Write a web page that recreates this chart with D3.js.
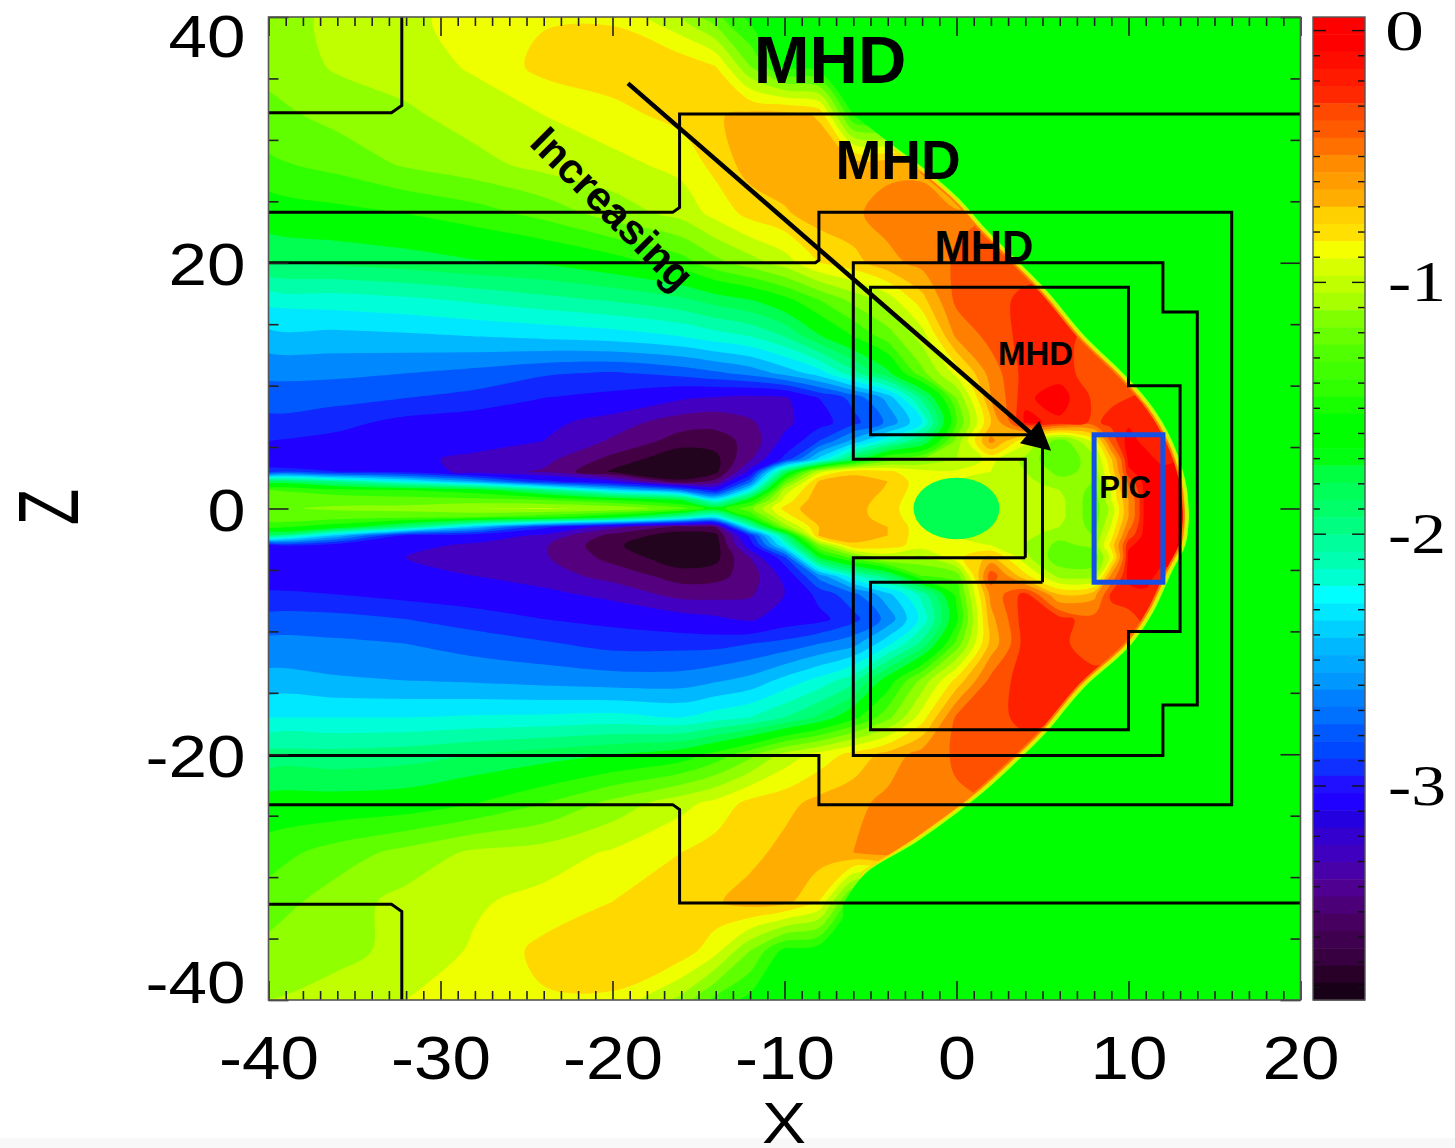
<!DOCTYPE html>
<html><head><meta charset="utf-8">
<script src="https://cdn.jsdelivr.net/npm/d3@7"></script>
<style>html,body{margin:0;padding:0;background:#fff}svg{display:block}</style>
</head><body><svg id="c" width="1455" height="1148"></svg>
<script>
// grid coordinates
const xCoords = [-40,-36,-32,-28,-24,-20,-16,-14,-12,-10,-8,-6,-4,-2,0,2,4,6,8,9,10,11,12,14,16,20];
const zCoords = [40,36,32,28,24,20,17,14,11,9,7,5.5,4,3,2.2,1.5,0.7,0,-0.7,-1.5,-2.2,-3,-4,-5.5,-7,-9,-11,-14,-17,-20,-24,-28,-32,-36,-40];
const upstream = -1.6; // undisturbed solar wind: rows stop where only this value remains
// log10 values, one row per zCoord; each row is read left to right
const fieldRows = [
[-1.15,-1,-.93,-.85,-.77,-.77,-1.05,-1.3,-1.55],
[-1.15,-1.03,-.97,-.88,-.7,-.66,-.65,-.75,-1.2,-1.55],
[-1.25,-1.15,-1.08,-.98,-.9,-.8,-.7,-.62,-.55,-.53,-.62,-1.5],
[-1.38,-1.3,-1.18,-1.1,-1,-.95,-.85,-.7,-.53,-.5,-.47,-.5,-.5,-.5],
[-1.6,-1.55,-1.5,-1.42,-1.3,-1.13,-1,-.85,-.7,-.62,-.53,-.48,-.38,-.36,-.33,-.3,-.3],
[-1.85,-1.82,-1.78,-1.72,-1.68,-1.58,-1.42,-1.25,-1.12,-.98,-.75,-.66,-.5,-.4,-.28,-.25,-.25,-.25],
[-2.25,-2.22,-2.18,-2.12,-2.05,-1.98,-1.88,-1.78,-1.7,-1.55,-1.35,-1.15,-.98,-.65,-.26,-.24,-.14,-.12,-.12],
[-2.5,-2.5,-2.48,-2.45,-2.42,-2.38,-2.3,-2.22,-2.15,-2,-1.72,-1.5,-1.28,-.98,-.42,-.25,-.14,-.14,-.22,-.25],
[-2.72,-2.72,-2.75,-2.8,-2.88,-2.92,-2.85,-2.78,-2.7,-2.55,-2.38,-2.05,-1.75,-1.25,-.85,-.38,-.13,-.12,-.25,-.24,-.24,-.24,-.24],
[-2.82,-2.85,-2.9,-2.95,-3.05,-3.1,-3.23,-3.27,-3.3,-3.28,-3.05,-2.85,-2.55,-1.95,-1.2,-.45,-.1,-.03,-.2,-.2,-.18,-.16,-.15,-.15],
[-2.95,-3,-3.1,-3.15,-3.2,-3.33,-3.48,-3.5,-3.42,-3.3,-3.12,-2.95,-2.72,-2.3,-1.35,-.6,-.06,-.1,-.2,-.15,-.1,-.1,-.1,-.1],
[-3.05,-3.1,-3.15,-3.2,-3.25,-3.42,-3.62,-3.62,-3.5,-3.2,-2.9,-2.55,-2.2,-1.85,-1.15,-.4,-.85,-1.3,-.85,-.25,-.03,-.12,-.12,-.05],
[-3.15,-3.2,-3.22,-3.28,-3.35,-3.6,-3.78,-3.72,-3.42,-3,-2.4,-1.8,-1.3,-1.2,-1.05,-.85,-1.1,-1.35,-1.1,-.62,-.05,-.03,-.12,-.03],
[-3,-3.05,-3.1,-3.33,-3.42,-3.7,-3.8,-3.72,-3.2,-1.85,-.95,-.63,-.72,-.85,-.88,-.9,-1.05,-1.25,-1.15,-.7,-.1,-.03,-.03,-.03],
[-1.8,-2,-2.3,-2.6,-3,-3.2,-3.65,-3.5,-2.8,-1.35,-.58,-.55,-.6,-.85,-.9,-.95,-1,-1.15,-1.2,-.8,-.25,-.03,-.03,-.03],
[-1.35,-1.45,-1.5,-1.6,-1.95,-2.4,-2.75,-3.1,-2.3,-1,-.52,-.5,-.62,-.85,-.9,-1,-1,-1.05,-1.25,-.88,-.35,-.03,-.03,-.03],
[-1.25,-1.25,-1.28,-1.3,-1.35,-1.5,-1.7,-2.3,-1.6,-.85,-.48,-.5,-.68,-.85,-.9,-1,-1,-1,-1.3,-.9,-.45,-.03,-.03,-.03],
[-1.22,-1.18,-1.15,-1.05,-1.03,-1.08,-1.3,-1.6,-1.25,-.7,-.48,-.53,-.7,-.85,-.9,-1,-1,-1,-1.3,-1,-.45,-.03,-.03,-.03],
[-1.25,-1.28,-1.3,-1.35,-1.45,-1.65,-2.1,-2.35,-1.5,-.85,-.48,-.53,-.68,-.85,-.9,-1,-1,-1,-1.3,-.95,-.45,-.03,-.03,-.03],
[-1.45,-1.6,-1.95,-2.5,-3,-3.35,-3.6,-3.55,-2.2,-1.15,-.6,-.52,-.6,-.85,-.9,-1,-1,-1.05,-1.25,-.88,-.35,-.03,-.03,-.03],
[-1.9,-2.5,-3.1,-3.15,-3.28,-3.6,-3.75,-3.72,-3,-1.95,-.58,-.55,-.6,-.85,-.9,-.95,-1,-1.15,-1.2,-.8,-.25,-.03,-.03,-.03],
[-3.15,-3.15,-3.2,-3.28,-3.38,-3.66,-3.78,-3.75,-3.15,-2.3,-1.2,-.62,-.68,-.82,-.88,-.9,-1.05,-1.25,-1.15,-.7,-.1,-.03,-.03,-.03],
[-3.2,-3.2,-3.25,-3.28,-3.38,-3.6,-3.76,-3.72,-3.4,-2.95,-1.7,-1.3,-1,-1.1,-.8,-.55,-1,-1.3,-1.3,-.85,-.05,-.03,-.04,-.04],
[-3.15,-3.2,-3.22,-3.25,-3.33,-3.45,-3.62,-3.6,-3.48,-3.2,-2.7,-2.2,-1.9,-1.35,-1.3,-.2,-.7,-1.1,-1.1,-.4,-.05,-.04,-.12,-.06],
[-3.02,-3.05,-3.1,-3.15,-3.2,-3.3,-3.45,-3.45,-3.42,-3.25,-3,-2.8,-2.5,-2.1,-1.45,-.4,-.13,-.6,-.5,-.15,-.12,-.1,-.1,-.1],
[-2.85,-2.85,-2.9,-2.97,-3.05,-3.1,-3.18,-3.22,-3.28,-3.15,-3.1,-2.95,-2.7,-2.25,-1.55,-.5,-.1,-.13,-.25,-.25,-.22,-.15,-.1,-.1],
[-2.7,-2.72,-2.75,-2.82,-2.88,-2.95,-2.95,-2.95,-2.9,-2.85,-2.75,-2.65,-2.35,-1.95,-1.3,-.55,-.12,-.15,-.25,-.24,-.2,-.2,-.2],
[-2.55,-2.58,-2.6,-2.62,-2.65,-2.68,-2.68,-2.62,-2.55,-2.4,-2.25,-2.05,-1.6,-1.15,-.7,-.25,-.13,-.13,-.13,-.13],
[-2.3,-2.3,-2.3,-2.28,-2.27,-2.25,-2.3,-2.22,-2.15,-2,-1.82,-1.55,-1.25,-.82,-.27,-.23,-.14,-.14],
[-1.95,-1.95,-1.92,-1.85,-1.78,-1.7,-1.6,-1.45,-1.25,-1,-.85,-.7,-.55,-.38,-.28,-.25,-.25],
[-1.62,-1.62,-1.6,-1.5,-1.35,-1.15,-.95,-.85,-.7,-.65,-.55,-.5,-.4,-.36,-.32,-.3],
[-1.42,-1.28,-1.15,-1.02,-.98,-.88,-.75,-.68,-.65,-.55,-.52,-.45,-.38,-.5,-.5],
[-1.28,-1.12,-1,-.92,-.85,-.75,-.68,-.62,-.53,-.55,-.75,-1.5],
[-1.15,-1.1,-1,-.88,-.7,-.66,-.66,-.85,-1.2,-1.55],
[-1.05,-.98,-.9,-.85,-.77,-.77,-1.1,-1.4,-1.55]
];
// contour levels and the fill of each band above it
const levels = [-3.68,-3.55,-3.4,-3.25,-3.05,-2.9,-2.75,-2.6,-2.45,-2.3,-2.15,-2,-1.85,-1.7,-1.5,-1.35,-1.2,-1.05,-.9,-.75,-.6,-.45,-.3,-.18,-.08];
const bandColors = ["#430045","#55007f","#4300c0","#2200ff","#1028ff","#0058ff","#0088ff","#00b8ff","#00e8ff","#00ffd8","#00ffa8","#00ff78","#00ff50","#00ff00","#30ff00","#60ff00","#90ff00","#c0ff00","#f0ff00","#ffd800","#ffad00","#ff8000","#ff5000","#ff2000","#ff0000"];
const lowestColor = "#22041f";
// colour bar, top band first
const barColors = ["#ff0000","#ff0000","#ff0c00","#ff1a00","#ff2800","#ff4800","#ff5a00","#ff7000","#ff8c00","#ff9c00","#ffad00","#ffd000","#ffe000","#f5ff00","#d8ff00","#c0ff00","#a8ff00","#80ff00","#68ff00","#50ff00","#40ff00","#30ff00","#18ff00","#00ff00","#00ff00","#00ff10","#00ff40","#00ff58","#00ff68","#00ff80","#00ff9c","#00ffb0","#00ffd0","#00ffff","#00e8ff","#00d0ff","#00b8ff","#00a8ff","#0098ff","#0080ff","#0070ff","#0058ff","#0048ff","#1030ff","#2010ff","#2000ff","#2400e0","#3400d0","#4000c0","#4800a8","#500090","#4c0078","#480060","#400050","#380040","#280028","#180018"];
const barTop = 0.054, barBottom = -3.85;
const barMajor = [0,-1,-2,-3];
const barMinor = [-.1,-.2,-.3,-.4,-.5,-.6,-.7,-.8,-.9,-1.1,-1.2,-1.3,-1.4,-1.5,-1.6,-1.7,-1.8,-1.9,-2.1,-2.2,-2.3,-2.4,-2.5,-2.6,-2.7,-2.8,-2.9,-3.1,-3.2,-3.3,-3.4,-3.5,-3.6,-3.7,-3.8];
const xMajor = [-40,-30,-20,-10,0,10,20];
const xMinor = d3.range(-40,21).filter(v=>v%10!==0);
const zMajor = [40,20,0,-20,-40];
const zMinor = [35,30,25,15,10,5,-5,-10,-15,-25,-30,-35];
// bow shock, north to south, [x,z]
const shockX = [-5.96,-3.75,-1.83,0.15,1.54,3.52,5.26,7.41,9.8,11.37,12.5,13.3,13.5,13.5,13.3,12.5,11.4,10,7.4,5.1,3.5,1.55,0,-2.4,-5.3,-6.6];
const shockZ = [32,29.6,27.6,25.2,23,20.2,17.7,14.1,10.85,8.3,5.6,2.3,0,-1.1,-3,-5.2,-8.5,-11.3,-14.6,-18.4,-20.6,-23.1,-24.8,-27.2,-29.7,-32.2];
// nested refinement boundaries, [x,z] vertices
const grids = [
 [[-40,32.2],[-32.85,32.2],[-32.25,32.8],[-32.25,40]],
 [[-40,24.1],[-16.5,24.1],[-16.1,24.5],[-16.1,32.1],[20,32.1]],
 [[-40,-24.1],[-16.5,-24.1],[-16.1,-24.5],[-16.1,-32.1],[20,-32.1]],
 [[-40,-32.2],[-32.85,-32.2],[-32.25,-32.8],[-32.25,-40]],
 [[-40,20],[-8.2,20],[-8,20.2],[-8,24.1],[16,24.1],[16,-24.1],[-8,-24.1],[-8,-20.1],[-40,-20.1]],
 [[4,-4],[-6,-4],[-6,-20.1],[12,-20.1],[12,-16],[14,-16],[14,16],[12,16],[12,20],[-6,20],[-6,4],[4,4],[4,-4]],
 [[5,-6],[-5,-6],[-5,-18],[10,-18],[10,-10],[13,-10],[13,10],[10,10],[10,18],[-5,18],[-5,6],[5,6],[5,-6]]
];
const picBox = {x0:8,x1:12,z0:-6,z1:6};
const body = {x:0,z:0,r:2.5};
const arrowFrom = [-19.1,34.6], arrowTo = [5.5,4.7];
const labels = [
 {t:"MHD",x:-7.35,z:36.1,s:67},{t:"MHD",x:-3.4,z:28,s:55},{t:"MHD",x:1.6,z:21,s:43.5},{t:"MHD",x:4.6,z:12.4,s:33},{t:"PIC",x:9.8,z:1.5,s:31}
];

const L=268.5,R=1300.5,T=17,B=1000;
const svg=d3.select("#c");
svg.append("rect").attr("y",1138).attr("width",1455).attr("height",10).attr("fill","#f8f8f8");
const x=d3.scaleLinear().domain([-40,20]).range([L,R]);
const z=d3.scaleLinear().domain([-40,40]).range([B,T]);
const clip=svg.append("defs").append("clipPath").attr("id","pc");
clip.append("rect").attr("x",L).attr("y",T).attr("width",R-L).attr("height",B-T);
const plot=svg.append("g").attr("clip-path","url(#pc)");
plot.append("rect").attr("x",L).attr("y",T).attr("width",R-L).attr("height",B-T).attr("fill",lowestColor);

const nx=xCoords.length,nz=zCoords.length;
const values=[];
fieldRows.forEach(r=>{for(let i=0;i<nx;i++)values.push(i<r.length?r[i]:upstream)});
const ix=d3.scaleLinear().domain(xCoords.map((_,i)=>i+.5)).range(xCoords.map(v=>x(v)));
const iz=d3.scaleLinear().domain(zCoords.map((_,i)=>i+.5)).range(zCoords.map(v=>z(v)));
const ringLine=d3.line().x(p=>ix(p[0])).y(p=>iz(p[1])).curve(d3.curveCatmullRomClosed.alpha(.5));
const cs=d3.contours().size([nx,nz]).thresholds(levels)(values);
cs.forEach((c,i)=>{
 let d="";
 c.coordinates.forEach(poly=>poly.forEach(ring=>{d+=ringLine(ring.slice(0,-1))}));
 plot.append("path").attr("d",d).attr("fill",bandColors[i]).attr("fill-rule","evenodd");
});
// bow shock: thin transition and the undisturbed solar wind beyond it
const shock=shockX.map((v,i)=>[v,shockZ[i]]);
const sLine=d3.line().x(p=>x(p[0])).y(p=>z(p[1])).curve(d3.curveCatmullRom.alpha(.5));
[[2,24,12,"#ff8000"],[1,25,8,"#ffd800"],[1,25,5,"#c0ff00"]].forEach(([a,b,w,col])=>{
 plot.append("path").attr("d",sLine(shock.slice(a,b))).attr("fill","none").attr("stroke",col).attr("stroke-width",w).attr("stroke-linecap","round");
});
plot.append("path").attr("fill","#00ff00").attr("d",sLine(shock)+`L${x(-6.6)},${z(-40)}L${x(20)},${z(-40)}L${x(20)},${z(40)}L${x(-5.96)},${z(40)}Z`);
plot.append("ellipse").attr("cx",x(body.x)).attr("cy",z(body.z)).attr("rx",x(body.r)-x(0)).attr("ry",z(0)-z(body.r)).attr("fill","#00ff50");
// grid outlines
const gLine=d3.line().x(p=>x(p[0])).y(p=>z(p[1]));
plot.selectAll(".g").data(grids).join("path").attr("d",gLine).attr("fill","none").attr("stroke","#000").attr("stroke-width",3);
plot.append("rect").attr("x",x(picBox.x0)).attr("y",z(picBox.z1)).attr("width",x(picBox.x1)-x(picBox.x0)).attr("height",z(picBox.z0)-z(picBox.z1)).attr("fill","none").attr("stroke","#1450e6").attr("stroke-width",5);
// arrow
const ang=Math.atan2(z(arrowTo[1])-z(arrowFrom[1]),x(arrowTo[0])-x(arrowFrom[0]));
const ax=x(arrowTo[0]),ay=z(arrowTo[1]);
plot.append("line").attr("x1",x(arrowFrom[0])).attr("y1",z(arrowFrom[1])).attr("x2",ax-10*Math.cos(ang)).attr("y2",ay-10*Math.sin(ang)).attr("stroke","#000").attr("stroke-width",4.5);
plot.append("path").attr("fill","#000").attr("d",d3.line()([[ax,ay],[ax-32*Math.cos(ang-.48),ay-32*Math.sin(ang-.48)],[ax-32*Math.cos(ang+.48),ay-32*Math.sin(ang+.48)]])+"Z");
// annotation text
const sans="'Liberation Sans',Arial,sans-serif";
svg.selectAll(".lab").data(labels).join("text").text(d=>d.t).attr("x",d=>x(d.x)).attr("y",d=>z(d.z)).attr("text-anchor","middle").attr("dominant-baseline","middle")
 .attr("font-family",sans).attr("font-weight","bold").attr("font-size",d=>d.s).attr("fill","#000");
svg.append("text").text("Increasing").attr("transform","translate(610,211) rotate(45)").attr("text-anchor","middle").attr("dominant-baseline","middle")
 .attr("font-family",sans).attr("font-weight","bold").attr("font-size",42);
// axes: ticks point inward
function ticks(axis,scale,vals,size,tx){
 const g=svg.append("g").attr("transform",tx).call(axis(scale).tickValues(vals).tickSize(-size).tickFormat(""));
 g.select(".domain").remove();
 g.selectAll("line").attr("stroke","#222").attr("stroke-width",1.6);
}
ticks(d3.axisBottom,x,xMinor,9,`translate(0,${B})`);ticks(d3.axisBottom,x,xMajor,19,`translate(0,${B})`);
ticks(d3.axisTop,x,xMinor,9,`translate(0,${T})`);ticks(d3.axisTop,x,xMajor,19,`translate(0,${T})`);
ticks(d3.axisLeft,z,zMinor,10,`translate(${L},0)`);ticks(d3.axisLeft,z,zMajor,20,`translate(${L},0)`);
ticks(d3.axisRight,z,zMinor,10,`translate(${R},0)`);ticks(d3.axisRight,z,zMajor,20,`translate(${R},0)`);
svg.append("rect").attr("x",L).attr("y",T).attr("width",R-L).attr("height",B-T).attr("fill","none").attr("stroke","#555").attr("stroke-width",1.6);
// tick labels, wider than the font's natural width as in the reference
const wide=v=>String(v).length===3?100:String(v).length===2?77:38;
const xLab=svg.append("g").attr("transform",`translate(0,${B})`).call(d3.axisBottom(x).tickValues(xMajor).tickSize(0).tickPadding(0).tickFormat(v=>String(v)));
xLab.select(".domain").remove();
xLab.selectAll("text").attr("font-family",sans).attr("font-size",62).attr("fill","#000").attr("y",79).attr("dy",0).attr("text-anchor","middle")
 .attr("textLength",wide).attr("lengthAdjust","spacingAndGlyphs");
const zLab=svg.append("g").attr("transform",`translate(${L},0)`).call(d3.axisLeft(z).tickValues(zMajor).tickSize(0).tickPadding(0).tickFormat(v=>String(v)));
zLab.select(".domain").remove();
zLab.selectAll("text").attr("font-family",sans).attr("font-size",60).attr("fill","#000").attr("x",-23).attr("dy",0).attr("text-anchor","end")
 .attr("y",d=>d===40?39:d===-40?2:22).attr("textLength",wide).attr("lengthAdjust","spacingAndGlyphs");
svg.append("text").text("X").attr("x",784).attr("y",1143).attr("text-anchor","middle").attr("font-family",sans).attr("font-size",58).attr("textLength",44).attr("lengthAdjust","spacingAndGlyphs");
svg.append("text").text("Z").attr("transform","translate(78,507) rotate(-90)").attr("text-anchor","middle").attr("font-family",sans).attr("font-size",85).attr("textLength",36).attr("lengthAdjust","spacingAndGlyphs");
// colour bar
const barL=1313,barR=1365;
const bar=d3.scaleLinear().domain([barTop,barBottom]).range([T,B]);
const dv=(barTop-barBottom)/barColors.length;
svg.append("g").selectAll("rect").data(barColors).join("rect").attr("x",barL).attr("width",barR-barL).attr("y",(d,i)=>bar(barTop-i*dv)).attr("height",(d,i)=>bar(barTop-(i+1)*dv)-bar(barTop-i*dv)+.5).attr("fill",d=>d);
const barG=svg.append("g");
barMinor.concat(barMajor).forEach(v=>{
 const s=barMajor.includes(v)?13:7;
 [[barL,barL+s],[barR,barR-s]].forEach(([a,b])=>barG.append("line").attr("x1",a).attr("x2",b).attr("y1",bar(v)).attr("y2",bar(v)).attr("stroke","#111").attr("stroke-width",1.4));
});
svg.append("rect").attr("x",barL).attr("y",T).attr("width",barR-barL).attr("height",B-T).attr("fill","none").attr("stroke","#555").attr("stroke-width",1.4);
svg.selectAll(".bl").data(barMajor).join("text").text(d=>d).attr("x",d=>d===0?1385:1388).attr("y",d=>bar(d)+19)
 .attr("textLength",d=>d===0?39:58).attr("lengthAdjust","spacingAndGlyphs").attr("font-family","'Liberation Serif',serif").attr("font-size",56).attr("fill","#000");
</script></body></html>
